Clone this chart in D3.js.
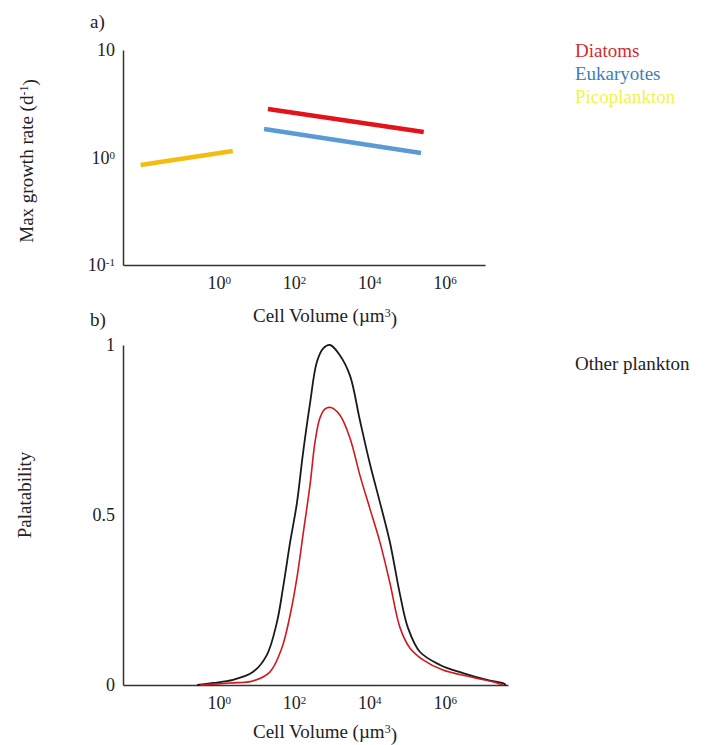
<!DOCTYPE html>
<html>
<head>
<meta charset="utf-8">
<script src="https://cdn.jsdelivr.net/npm/d3@7"></script>
<style>
  body { margin: 0; background: #fff; }
  svg, svg text, svg tspan { font-family: "Liberation Serif", "Times New Roman", Times, serif !important; }
  svg text { fill: #222; }
  .axis path { stroke: #333; stroke-width: 1.5; }
</style>
</head>
<body>
<div id="chart"></div>
<script>

/* panel a: max growth rate against cell volume, both log */
var growthGroups = ["Diatoms", "Eukaryotes", "Picoplankton"];
var growthVolume = [[24, 3.3e5], [19, 2.8e5], [0.01, 2.8]];
var growthRate = [[2.83, 1.73], [1.84, 1.10], [0.85, 1.15]];
var growthTicks = [0.1, 1, 10];

/* panel b: palatability curves, volume given as log10 */
var otherLogVol = [-0.5, -0.08, 0.45, 0.98, 1.35, 1.62, 1.78, 1.97, 2.15, 2.31, 2.5, 2.68, 2.85, 3.03, 3.29, 3.56, 3.82, 4.09, 4.36, 4.62, 4.89, 5.1, 5.42, 5.95, 6.56, 7.2, 7.6, 7.7];
var otherPalat = [0, 0.006, 0.015, 0.038, 0.088, 0.185, 0.285, 0.42, 0.535, 0.68, 0.83, 0.95, 0.99, 1.0, 0.97, 0.91, 0.78, 0.65, 0.535, 0.42, 0.265, 0.168, 0.097, 0.059, 0.035, 0.015, 0.006, 0];
var diatomLogVol = [-0.42, 0.37, 0.98, 1.43, 1.75, 1.97, 2.15, 2.31, 2.5, 2.63, 2.76, 2.9, 3.05, 3.29, 3.56, 3.82, 4.09, 4.36, 4.62, 4.89, 5.15, 5.5, 6.03, 6.75, 7.46, 7.62];
var diatomPalat = [0, 0.006, 0.012, 0.038, 0.109, 0.206, 0.315, 0.44, 0.59, 0.714, 0.785, 0.812, 0.816, 0.794, 0.726, 0.618, 0.518, 0.418, 0.3, 0.168, 0.109, 0.074, 0.044, 0.024, 0.006, 0];
var palatTicks = [0, 0.5, 1];
var palatLegend = "Other plankton";

var volumeTicks = [1, 1e2, 1e4, 1e6];

var lineColors = ["#e3131b", "#5b9bd5", "#f2bc10"];
var legendColors = ["#d42a2f", "#3b7fb3", "#f3f34a"];

var width = 712;
var height = 745;

var svg = d3.select("#chart").append("svg")
  .attr("width", width)
  .attr("height", height)
  .attr("font-family", "Liberation Serif, serif");

var xA = d3.scaleLog().domain([3.4e-3, 1.4e7]).range([123, 485]);
var yA = d3.scaleLog().domain([0.1, 10]).range([265, 50]);
var xB = d3.scaleLog().domain([3.4e-3, 5.7e7]).range([123, 508]);
var yB = d3.scaleLinear().domain([0, 1]).range([685, 345]);

function powerLabels(sel) {
  sel.selectAll(".tick text").each(function(d) {
    var t = d3.select(this);
    var p = Math.round(Math.log10(d));
    t.text("10");
    if (p != 1 || t.classed("x")) {
      t.append("tspan").attr("dy", "-0.45em").attr("font-size", "11px").text(p);
    }
  });
}

function xAxis(scale, y) {
  var g = svg.append("g")
    .attr("class", "axis")
    .attr("transform", "translate(0," + y + ")")
    .call(d3.axisBottom(scale).tickValues(volumeTicks).tickSize(0).tickSizeOuter(0).tickPadding(11));
  g.attr("font-family", null);
  g.selectAll(".tick text").classed("x", true);
  powerLabels(g);
  g.selectAll(".tick text")
    .attr("font-size", "18px")
    .attr("text-anchor", "start")
    .attr("x", -9);
  return g;
}

/* ---- panel a ---- */
xAxis(xA, 265);

var gyA = svg.append("g")
  .attr("class", "axis")
  .attr("transform", "translate(123,0)")
  .call(d3.axisLeft(yA).tickValues(growthTicks).tickSize(0).tickSizeOuter(0).tickPadding(8));
gyA.attr("font-family", null);
powerLabels(gyA);
gyA.selectAll(".tick text").attr("font-size", "18px");

var line = d3.line();
for (var i = 0; i < growthGroups.length; i++) {
  var pts = growthVolume[i].map(function(v, j) { return [xA(v), yA(growthRate[i][j])]; });
  svg.append("path")
    .attr("d", line(pts))
    .attr("fill", "none")
    .attr("stroke", lineColors[i])
    .attr("stroke-width", 4.5);
}

svg.selectAll("text.legend")
  .data(growthGroups)
  .enter()
  .append("text")
  .attr("class", "legend")
  .attr("x", 575)
  .attr("y", function(d, i) { return 57 + i * 23; })
  .attr("font-size", "19px")
  .style("fill", function(d, i) { return legendColors[i]; })
  .text(function(d) { return d; });

svg.append("text").attr("x", 90).attr("y", 28).attr("font-size", "19px").text("a)");

var ta = svg.append("text")
  .attr("transform", "translate(33,161) rotate(-90)")
  .attr("text-anchor", "middle")
  .attr("font-size", "19px")
  .text("Max growth rate (d");
ta.append("tspan").attr("dy", "-0.45em").attr("font-size", "12px").text("-1");
ta.append("tspan").attr("dy", "0.45em").text(")");

function volumeTitle(y) {
  var t = svg.append("text")
    .attr("x", 325)
    .attr("y", y)
    .attr("text-anchor", "middle")
    .attr("font-size", "19px")
    .text("Cell Volume (\u00b5m");
  t.append("tspan").attr("dy", "-0.45em").attr("font-size", "12px").text("3");
  t.append("tspan").attr("dy", "0.45em").text(")");
}
volumeTitle(322);

/* ---- panel b ---- */
xAxis(xB, 685);

var gyB = svg.append("g")
  .attr("class", "axis")
  .attr("transform", "translate(123,0)")
  .call(d3.axisLeft(yB).tickValues(palatTicks).tickSize(0).tickSizeOuter(0).tickPadding(8).tickFormat(d3.format("")));
gyB.attr("font-family", null);
gyB.selectAll(".tick text").attr("font-size", "18px");

var curve = d3.line()
  .x(function(d) { return xB(Math.pow(10, d[0])); })
  .y(function(d) { return yB(Math.max(0, d[1])); })
  .curve(d3.curveCatmullRom.alpha(0.5));

svg.append("path")
  .attr("d", curve(otherLogVol.map(function(v, i) { return [v, otherPalat[i]]; })))
  .attr("fill", "none")
  .attr("stroke", "#1a1a1a")
  .attr("stroke-width", 1.8);

svg.append("path")
  .attr("d", curve(diatomLogVol.map(function(v, i) { return [v, diatomPalat[i]]; })))
  .attr("fill", "none")
  .attr("stroke", "#d0191f")
  .attr("stroke-width", 1.6);

svg.append("text").attr("x", 575).attr("y", 370).attr("font-size", "19px").text(palatLegend);
svg.append("text").attr("x", 90).attr("y", 326).attr("font-size", "19px").text("b)");

svg.append("text")
  .attr("transform", "translate(31,495) rotate(-90)")
  .attr("text-anchor", "middle")
  .attr("font-size", "19px")
  .text("Palatability");

volumeTitle(738);

</script>
</body>
</html>
